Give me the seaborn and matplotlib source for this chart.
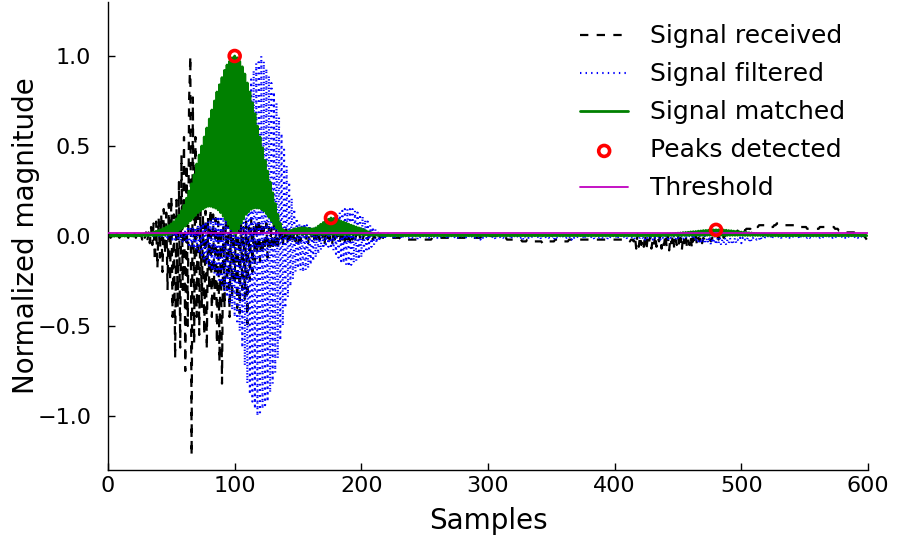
import matplotlib
matplotlib.use("Agg")
import matplotlib.pyplot as plt
import seaborn as sns

# ---------------- data ----------------
received = [
    0.00, 0.01, -0.01, 0.00, 0.01, -0.01, 0.00, 0.01, 0.00, -0.01, 0.00, 0.01, -0.01, 0.00, 0.00, 0.01, -0.01, 0.00, 0.01, -0.01,
    0.00, 0.01, -0.01, 0.01, -0.01, 0.00, 0.01, -0.02, 0.01, -0.01, 0.02, -0.03, 0.02, -0.04, 0.05, -0.05, 0.07, -0.14, 0.08, -0.18,
    0.10, -0.12, 0.12, -0.20, 0.15, -0.10, 0.13, -0.30, 0.18, -0.25, 0.22, -0.45, 0.12, -0.68, 0.20, -0.40, 0.30, -0.62, 0.45, -0.30,
    0.55, -0.75, 0.40, -0.50, 0.75, 1.00, -1.22, 0.77, -0.60, 0.55, -0.45, 0.30, -0.55, 0.20, -0.40, 0.12, -0.55, 0.14, -0.63, 0.10,
    -0.30, 0.15, -0.45, 0.12, -0.35, 0.10, -0.60, 0.08, -0.70, 0.05, -0.82, 0.06, -0.40, 0.10, -0.30, 0.08, -0.45, 0.05, -0.35, 0.10,
    -0.25, 0.08, -0.40, 0.05, -0.43, 0.10, -0.30, 0.05, -0.35, 0.08, -0.49, 0.05, -0.25, 0.10, -0.20, 0.05, -0.15, 0.08, -0.10, 0.10,
    -0.14, 0.08, -0.10, 0.05, -0.08, 0.07, -0.12, 0.05, -0.06, 0.04, -0.08, 0.06, -0.05, 0.04, -0.08, 0.03, -0.04, 0.05, -0.06, 0.04,
    -0.03, 0.05, -0.05, 0.03, -0.02, 0.05, -0.04, 0.03, -0.03, 0.04, -0.05, 0.02, -0.03, 0.04, -0.02, 0.03, -0.03, 0.02, -0.04, 0.03,
    0.04, -0.03, 0.05, -0.02, 0.03, -0.04, 0.05, -0.02, 0.04, -0.03, 0.02, -0.04, 0.05, -0.03, 0.04, -0.02, 0.05, -0.04, 0.03, -0.02,
    0.04, -0.03, 0.02, -0.04, 0.03, -0.02, 0.02, -0.03, 0.03, -0.02, 0.02, -0.03, 0.01, -0.02, 0.02, -0.02, 0.01, -0.02, 0.02, -0.01,
    0.01, -0.02, 0.01, -0.01, 0.01, -0.02, 0.00, -0.01, 0.01, -0.02, 0.00, -0.01, 0.00, -0.02, 0.00, -0.01, 0.00, -0.01, -0.01, -0.01,
    -0.01, -0.01, -0.01, -0.01, -0.01, -0.01, -0.01, -0.01, -0.01, -0.01, -0.01, -0.02, -0.02, -0.02, -0.02, -0.02, -0.02, -0.02, -0.02, -0.02,
    -0.02, -0.02, -0.02, -0.02, -0.02, -0.02, -0.02, -0.02, -0.02, -0.02, -0.02, -0.02, -0.02, -0.02, -0.02, -0.02, -0.01, -0.01, -0.01, -0.01,
    -0.01, -0.01, -0.01, -0.01, -0.01, -0.01, -0.01, -0.01, -0.01, -0.01, -0.01, -0.01, -0.01, -0.01, -0.01, -0.01, -0.01, -0.01, -0.01, -0.01,
    -0.01, -0.01, -0.01, -0.01, -0.01, -0.01, -0.01, -0.01, -0.01, -0.01, -0.01, -0.01, -0.01, -0.01, -0.01, 0.00, 0.00, 0.00, 0.00, 0.00,
    0.00, 0.00, 0.00, 0.00, 0.00, 0.00, 0.00, 0.00, 0.00, 0.00, -0.01, -0.01, -0.01, -0.01, -0.01, -0.02, -0.02, -0.02, -0.02, -0.02,
    -0.02, -0.02, -0.02, -0.02, -0.02, -0.02, -0.02, -0.03, -0.03, -0.03, -0.03, -0.02, -0.02, -0.02, -0.02, -0.02, -0.03, -0.03, -0.03, -0.03,
    -0.03, -0.03, -0.03, -0.04, -0.04, -0.03, -0.03, -0.03, -0.03, -0.03, -0.03, -0.03, -0.03, -0.02, -0.02, -0.02, -0.02, -0.03, -0.03, -0.03,
    -0.03, -0.03, -0.03, -0.03, -0.02, -0.02, -0.02, -0.02, -0.02, -0.02, -0.02, -0.02, -0.02, -0.02, -0.02, -0.02, -0.02, -0.02, -0.02, -0.02,
    -0.02, -0.02, -0.02, -0.02, -0.02, -0.02, -0.02, -0.02, -0.02, -0.02, -0.02, -0.02, -0.02, -0.02, -0.02, -0.02, -0.02, -0.02, -0.02, -0.02,
    -0.02, -0.02, -0.02, -0.02, -0.02, -0.02, -0.02, -0.02, -0.02, -0.02, -0.02, -0.02, -0.03, -0.02, -0.02, -0.03, 0.00, -0.07, 0.01, -0.06,
    0.00, -0.05, -0.02, -0.06, 0.01, -0.08, -0.01, -0.04, 0.00, -0.07, -0.02, -0.05, 0.01, -0.06, -0.01, -0.03, 0.00, -0.07, -0.02, -0.05,
    0.01, -0.06, 0.00, -0.08, -0.01, -0.04, 0.01, -0.07, -0.02, -0.05, 0.00, -0.06, -0.01, -0.08, 0.00, -0.04, 0.01, -0.06, -0.02, -0.05,
    0.00, -0.07, -0.01, -0.04, 0.00, -0.05, -0.01, -0.03, 0.00, -0.04, -0.01, -0.02, -0.01, -0.03, -0.02, -0.02, -0.03, -0.01, -0.02, 0.00,
    -0.01, 0.00, -0.02, 0.00, -0.01, 0.01, -0.01, 0.00, 0.01, 0.00, 0.01, 0.01, 0.02, 0.01, 0.02, 0.02, 0.02, 0.03, 0.02, 0.03,
    0.03, 0.03, 0.04, 0.03, 0.04, 0.04, 0.04, 0.04, 0.03, 0.03, 0.04, 0.05, 0.05, 0.05, 0.06, 0.06, 0.06, 0.06, 0.06, 0.06,
    0.06, 0.06, 0.06, 0.05, 0.05, 0.05, 0.06, 0.06, 0.07, 0.07, 0.07, 0.07, 0.07, 0.07, 0.06, 0.06, 0.06, 0.06, 0.06, 0.06,
    0.06, 0.06, 0.06, 0.06, 0.06, 0.06, 0.05, 0.05, 0.05, 0.05, 0.05, 0.05, 0.04, 0.04, 0.04, 0.04, 0.04, 0.04, 0.04, 0.04,
    0.04, 0.04, 0.05, 0.05, 0.05, 0.05, 0.05, 0.05, 0.05, 0.05, 0.05, 0.05, 0.05, 0.05, 0.04, 0.04, 0.04, 0.03, 0.03, 0.03,
    0.03, 0.03, 0.02, 0.02, 0.02, 0.02, 0.02, 0.02, 0.02, 0.02, 0.01, 0.01, 0.01, 0.01, 0.01, 0.01, 0.00, 0.00, -0.01, -0.02,
]

filtered = [
    0.00, 0.00, 0.00, 0.00, 0.00, 0.00, 0.00, 0.00, 0.00, 0.00, 0.00, 0.00, 0.00, 0.00, 0.00, 0.00, 0.00, 0.00, 0.00, 0.00,
    0.00, 0.00, 0.00, 0.00, 0.00, 0.00, 0.00, 0.00, 0.00, 0.00, 0.00, 0.00, 0.00, 0.00, 0.00, 0.00, 0.00, 0.00, 0.00, 0.00,
    0.00, 0.00, 0.01, -0.01, 0.01, -0.01, 0.01, -0.01, 0.01, -0.01, 0.01, -0.02, 0.01, -0.02, 0.02, -0.02, 0.02, -0.03, 0.02, -0.03,
    -0.03, 0.03, -0.04, 0.04, -0.05, 0.04, -0.06, 0.05, -0.07, 0.05, -0.08, 0.06, -0.10, 0.06, -0.12, 0.07, -0.14, 0.08, -0.16, 0.08,
    -0.18, 0.09, -0.19, 0.10, -0.21, 0.10, -0.23, 0.11, -0.26, 0.11, -0.29, 0.12, -0.31, 0.12, -0.34, 0.12, -0.38, 0.13, -0.41, 0.14,
    -0.45, 0.16, -0.49, 0.25, -0.53, 0.38, -0.62, 0.52, -0.72, 0.65, -0.82, 0.78, -0.88, 0.87, -0.92, 0.92, -0.96, 0.96, -1.00, 0.98,
    -0.98, 1.00, -0.96, 0.97, -0.94, 0.93, -0.92, 0.89, -0.87, 0.85, -0.82, 0.80, -0.76, 0.74, -0.68, 0.66, -0.58, 0.57, -0.50, 0.48,
    -0.40, 0.39, -0.34, 0.30, -0.28, 0.21, -0.24, 0.15, -0.20, 0.10, -0.18, 0.07, -0.19, 0.06, -0.20, 0.07, -0.19, 0.06, -0.18, 0.06,
    -0.16, 0.05, -0.14, 0.05, -0.12, 0.05, -0.10, 0.05, -0.08, 0.06, -0.07, 0.06, -0.06, 0.07, -0.06, 0.08, -0.07, 0.09, -0.08, 0.11,
    -0.10, 0.12, -0.12, 0.13, -0.14, 0.14, -0.15, 0.15, -0.16, 0.15, -0.17, 0.15, -0.16, 0.15, -0.15, 0.14, -0.14, 0.13, -0.13, 0.12,
    -0.12, 0.11, -0.10, 0.09, -0.09, 0.08, -0.07, 0.06, -0.06, 0.05, -0.05, 0.04, -0.04, 0.03, -0.03, 0.02, -0.02, 0.01, -0.02, 0.01,
    -0.01, 0.01, -0.01, 0.00, -0.01, 0.00, -0.02, 0.00, -0.01, 0.00, -0.01, 0.00, -0.02, 0.00, -0.01, 0.00, -0.01, 0.00, -0.01, 0.00,
    -0.01, 0.00, -0.01, 0.00, -0.02, 0.00, -0.01, 0.00, -0.01, 0.00, -0.01, 0.00, -0.01, 0.00, -0.02, 0.00, -0.01, 0.00, -0.01, 0.00,
    -0.01, 0.00, -0.01, 0.00, -0.01, 0.00, -0.01, 0.00, -0.02, 0.00, -0.01, 0.00, -0.01, 0.00, -0.01, 0.00, -0.01, 0.00, -0.01, 0.00,
    -0.01, 0.00, -0.02, 0.00, -0.01, 0.00, -0.01, 0.00, -0.01, 0.00, -0.01, 0.00, -0.01, 0.00, -0.02, 0.00, -0.01, 0.00, -0.01, 0.00,
    -0.01, 0.00, -0.01, 0.00, -0.01, 0.00, -0.02, 0.00, -0.01, 0.00, -0.01, 0.00, -0.01, 0.00, -0.01, 0.00, -0.01, 0.00, -0.02, 0.00,
    -0.01, 0.00, -0.01, 0.00, -0.01, 0.00, -0.01, 0.00, -0.02, 0.00, -0.01, 0.00, -0.01, 0.00, -0.01, 0.00, -0.01, 0.00, -0.01, 0.00,
    -0.01, 0.00, -0.02, 0.00, -0.01, 0.00, -0.01, 0.00, -0.01, 0.00, -0.01, 0.00, -0.02, 0.00, -0.01, 0.00, -0.01, 0.00, -0.01, 0.00,
    -0.01, 0.00, -0.01, 0.00, -0.01, 0.00, -0.02, 0.00, -0.01, 0.00, -0.01, 0.00, -0.01, 0.00, -0.01, 0.00, -0.02, 0.00, -0.01, 0.00,
    -0.01, 0.00, -0.01, 0.00, -0.02, 0.00, -0.01, 0.00, -0.01, 0.00, -0.01, 0.00, -0.01, 0.00, -0.02, 0.00, -0.01, 0.00, -0.01, 0.00,
    -0.01, 0.00, -0.02, 0.00, -0.01, 0.00, -0.01, 0.00, -0.01, 0.00, -0.02, 0.00, -0.01, 0.00, -0.01, 0.00, -0.02, 0.00, -0.01, 0.00,
    -0.01, 0.00, -0.01, 0.00, -0.02, 0.00, -0.01, 0.00, -0.01, 0.00, -0.02, 0.00, -0.01, 0.00, -0.01, 0.00, -0.02, 0.00, -0.01, 0.00,
    -0.01, 0.00, -0.02, 0.00, -0.01, 0.00, -0.01, 0.00, -0.02, 0.00, -0.01, 0.00, -0.01, 0.00, -0.02, 0.00, -0.01, 0.00, -0.01, 0.00,
    -0.01, 0.00, -0.02, 0.00, -0.02, -0.01, -0.03, 0.00, -0.03, -0.01, -0.04, 0.00, -0.04, -0.01, -0.04, 0.00, -0.05, -0.01, -0.04, 0.00,
    -0.05, -0.01, -0.04, -0.01, -0.05, -0.02, -0.04, -0.01, -0.05, -0.02, -0.04, -0.01, -0.04, -0.02, -0.04, -0.01, -0.04, -0.02, -0.03, -0.01,
    -0.04, -0.01, -0.03, -0.02, -0.03, -0.01, -0.03, -0.01, -0.03, -0.01, -0.02, -0.01, -0.02, -0.01, -0.02, 0.00, -0.02, 0.00, -0.02, 0.00,
    -0.01, 0.00, -0.01, 0.00, -0.02, 0.00, -0.01, 0.00, -0.01, 0.00, -0.01, 0.00, -0.02, 0.00, -0.01, 0.00, -0.01, 0.00, -0.01, 0.00,
    -0.01, 0.00, -0.01, 0.00, -0.01, 0.00, -0.02, 0.00, -0.01, 0.00, -0.01, 0.00, -0.01, 0.00, -0.01, 0.00, -0.01, 0.00, -0.01, 0.00,
    -0.01, 0.00, -0.01, 0.00, -0.01, 0.00, -0.01, 0.00, -0.01, 0.00, -0.01, 0.00, -0.01, 0.00, -0.01, 0.00, -0.01, 0.00, -0.01, 0.00,
    -0.01, 0.00, -0.01, 0.00, -0.01, 0.00, -0.01, 0.00, -0.01, 0.00, -0.01, 0.00, -0.01, 0.00, -0.01, 0.00, -0.01, 0.00, -0.01, 0.00,
]

matched = [
    0.005, 0.000, 0.005, 0.000, 0.005, 0.000, 0.005, 0.000, 0.005, 0.000, 0.005, 0.000, 0.005, 0.000, 0.005, 0.000, 0.005, 0.000, 0.005, 0.000,
    0.005, 0.002, 0.005, 0.002, 0.006, 0.002, 0.008, 0.002, 0.010, 0.002, 0.012, 0.002, 0.015, 0.003, 0.018, 0.003, 0.022, 0.003, 0.026, 0.003,
    0.030, 0.004, 0.035, 0.005, 0.042, 0.006, 0.050, 0.008, 0.058, 0.010, 0.067, 0.015, 0.080, 0.020, 0.095, 0.027, 0.115, 0.035, 0.140, 0.045,
    0.170, 0.055, 0.210, 0.070, 0.250, 0.085, 0.290, 0.100, 0.340, 0.115, 0.400, 0.130, 0.450, 0.140, 0.500, 0.150, 0.550, 0.160, 0.600, 0.165,
    0.650, 0.165, 0.700, 0.160, 0.750, 0.155, 0.800, 0.145, 0.840, 0.130, 0.880, 0.110, 0.920, 0.090, 0.950, 0.065, 0.970, 0.040, 0.990, 0.015,
    1.000, 0.010, 0.990, 0.040, 0.970, 0.070, 0.940, 0.095, 0.900, 0.120, 0.850, 0.135, 0.800, 0.148, 0.740, 0.155, 0.680, 0.157, 0.610, 0.155,
    0.550, 0.150, 0.490, 0.140, 0.420, 0.125, 0.360, 0.105, 0.300, 0.085, 0.240, 0.065, 0.180, 0.045, 0.120, 0.030, 0.070, 0.020, 0.035, 0.015,
    0.025, 0.012, 0.025, 0.012, 0.030, 0.012, 0.035, 0.012, 0.040, 0.012, 0.043, 0.012, 0.045, 0.012, 0.046, 0.012, 0.045, 0.012, 0.042, 0.012,
    0.040, 0.010, 0.040, 0.010, 0.045, 0.010, 0.055, 0.010, 0.065, 0.010, 0.075, 0.010, 0.085, 0.010, 0.093, 0.010, 0.100, 0.010, 0.097, 0.010,
    0.092, 0.008, 0.088, 0.008, 0.082, 0.008, 0.077, 0.008, 0.072, 0.008, 0.066, 0.008, 0.060, 0.008, 0.055, 0.008, 0.050, 0.008, 0.045, 0.008,
    0.040, 0.006, 0.034, 0.006, 0.028, 0.005, 0.023, 0.005, 0.018, 0.004, 0.014, 0.004, 0.011, 0.003, 0.009, 0.003, 0.007, 0.003, 0.006, 0.002,
    0.005, 0.002, 0.005, 0.002, 0.005, 0.002, 0.005, 0.002, 0.005, 0.002, 0.005, 0.002, 0.005, 0.002, 0.005, 0.002, 0.005, 0.002, 0.005, 0.002,
    0.005, 0.002, 0.005, 0.002, 0.005, 0.002, 0.005, 0.002, 0.005, 0.002, 0.005, 0.002, 0.005, 0.002, 0.005, 0.002, 0.005, 0.002, 0.005, 0.002,
    0.005, 0.002, 0.005, 0.002, 0.005, 0.002, 0.005, 0.002, 0.005, 0.002, 0.005, 0.002, 0.005, 0.002, 0.005, 0.002, 0.005, 0.002, 0.005, 0.002,
    0.005, 0.002, 0.005, 0.002, 0.005, 0.002, 0.005, 0.002, 0.005, 0.002, 0.005, 0.002, 0.005, 0.002, 0.005, 0.002, 0.005, 0.002, 0.005, 0.002,
    0.005, 0.002, 0.005, 0.002, 0.005, 0.002, 0.005, 0.002, 0.005, 0.002, 0.005, 0.002, 0.005, 0.002, 0.005, 0.002, 0.005, 0.002, 0.005, 0.002,
    0.005, 0.002, 0.005, 0.002, 0.005, 0.002, 0.005, 0.002, 0.005, 0.002, 0.005, 0.002, 0.005, 0.002, 0.005, 0.002, 0.005, 0.002, 0.005, 0.002,
    0.005, 0.002, 0.005, 0.002, 0.005, 0.002, 0.005, 0.002, 0.005, 0.002, 0.005, 0.002, 0.005, 0.002, 0.005, 0.002, 0.005, 0.002, 0.005, 0.002,
    0.005, 0.002, 0.005, 0.002, 0.005, 0.002, 0.005, 0.002, 0.005, 0.002, 0.005, 0.002, 0.005, 0.002, 0.005, 0.002, 0.005, 0.002, 0.005, 0.002,
    0.005, 0.002, 0.005, 0.002, 0.005, 0.002, 0.005, 0.002, 0.005, 0.002, 0.005, 0.002, 0.005, 0.002, 0.005, 0.002, 0.005, 0.002, 0.005, 0.002,
    0.005, 0.002, 0.005, 0.002, 0.005, 0.002, 0.005, 0.002, 0.005, 0.002, 0.005, 0.002, 0.005, 0.002, 0.005, 0.002, 0.005, 0.002, 0.005, 0.002,
    0.005, 0.002, 0.005, 0.002, 0.005, 0.002, 0.005, 0.002, 0.005, 0.002, 0.006, 0.002, 0.006, 0.002, 0.007, 0.002, 0.008, 0.002, 0.009, 0.002,
    0.010, 0.003, 0.011, 0.003, 0.012, 0.003, 0.013, 0.003, 0.015, 0.003, 0.016, 0.003, 0.017, 0.003, 0.019, 0.003, 0.020, 0.003, 0.021, 0.003,
    0.023, 0.004, 0.024, 0.004, 0.025, 0.004, 0.027, 0.004, 0.028, 0.004, 0.030, 0.004, 0.031, 0.004, 0.032, 0.004, 0.033, 0.004, 0.034, 0.004,
    0.034, 0.004, 0.034, 0.004, 0.033, 0.004, 0.033, 0.004, 0.032, 0.004, 0.030, 0.004, 0.029, 0.004, 0.027, 0.004, 0.026, 0.004, 0.024, 0.004,
    0.022, 0.003, 0.021, 0.003, 0.020, 0.003, 0.018, 0.003, 0.017, 0.003, 0.015, 0.003, 0.014, 0.003, 0.013, 0.003, 0.012, 0.003, 0.011, 0.003,
    0.010, 0.002, 0.010, 0.002, 0.009, 0.002, 0.008, 0.002, 0.008, 0.002, 0.007, 0.002, 0.007, 0.002, 0.006, 0.002, 0.006, 0.002, 0.006, 0.002,
    0.005, 0.002, 0.005, 0.002, 0.005, 0.002, 0.005, 0.002, 0.005, 0.002, 0.005, 0.002, 0.005, 0.002, 0.005, 0.002, 0.005, 0.002, 0.005, 0.002,
    0.005, 0.002, 0.005, 0.002, 0.005, 0.002, 0.005, 0.002, 0.005, 0.002, 0.005, 0.002, 0.005, 0.002, 0.005, 0.002, 0.005, 0.002, 0.005, 0.002,
    0.005, 0.002, 0.005, 0.002, 0.005, 0.002, 0.005, 0.002, 0.005, 0.002, 0.005, 0.002, 0.005, 0.002, 0.005, 0.002, 0.005, 0.002, 0.005, 0.002,
]

peak_samples = [100, 176, 480]
threshold = 0.015

series_labels = ["Signal received", "Signal filtered", "Signal matched", "Peaks detected", "Threshold"]
x_ticks = [0, 100, 200, 300, 400, 500, 600]
y_ticks = [-1.0, -0.5, 0.0, 0.5, 1.0]

samples = list(range(len(received)))
peak_values = [matched[i] for i in peak_samples]

# ---------------- style ----------------
sns.set_style("ticks")
plt.rcParams["font.family"] = ["DejaVu Sans"]
plt.rcParams["lines.scale_dashes"] = False
plt.rcParams["text.color"] = "black"
plt.rcParams["axes.labelcolor"] = "black"
plt.rcParams["xtick.color"] = "black"
plt.rcParams["ytick.color"] = "black"

fig = plt.figure(figsize=(8.97, 5.39), dpi=100)
ax = fig.add_axes([0.1204, 0.128, 0.8473, 0.8683])

sns.lineplot(x=samples, y=received, ax=ax, color="black", linewidth=1.6,
             linestyle=(0, (6, 6)), estimator=None, sort=False, label=series_labels[0])
sns.lineplot(x=samples, y=filtered, ax=ax, color="blue", linewidth=1.5,
             linestyle=(0, (1, 3)), estimator=None, sort=False, label=series_labels[1])
sns.lineplot(x=samples, y=matched, ax=ax, color="green", linewidth=2.0,
             estimator=None, sort=False, label=series_labels[2])
sns.scatterplot(x=peak_samples, y=peak_values, ax=ax, marker="o", s=62,
                linewidth=2.6, label=series_labels[3], zorder=5)
coll = ax.collections[-1]
coll.set_facecolor("none")
coll.set_edgecolor("red")
coll.set_linewidth(2.6)
ax.axhline(threshold, color=(0.75, 0.0, 0.75), linewidth=1.3, label=series_labels[4], zorder=4)

ax.set_xlim(0, 600)
ax.set_ylim(-1.3, 1.3)
ax.set_xticks(x_ticks)
ax.set_yticks(y_ticks)
ax.set_xticklabels([str(t) for t in x_ticks])
ax.set_yticklabels(["\u22121.0", "\u22120.5", "0.0", "0.5", "1.0"])
ax.tick_params(axis="x", direction="in", length=5, width=1, labelsize=16, top=False,
               colors="black", pad=4)
ax.tick_params(axis="y", direction="in", length=5, width=1, labelsize=16, right=False,
               colors="black", pad=12)
sns.despine(ax=ax)
for sp in ["left", "bottom"]:
    ax.spines[sp].set_linewidth(1.0)
    ax.spines[sp].set_color("black")

ax.set_xlabel("Samples", fontsize=20, labelpad=8)
ax.set_ylabel("Normalized magnitude", fontsize=20)
ax.yaxis.set_label_coords(-0.089, 0.5)

handles, labels = ax.get_legend_handles_labels()
order = [labels.index(l) for l in series_labels]
ax.legend([handles[i] for i in order], [labels[i] for i in order],
          loc="upper right", bbox_to_anchor=(1.0, 1.0), frameon=False,
          fontsize=18, handlelength=1.9, handletextpad=0.9,
          labelspacing=0.56, borderaxespad=0.5, scatterpoints=1)

fig.savefig("out.png", dpi=100)
